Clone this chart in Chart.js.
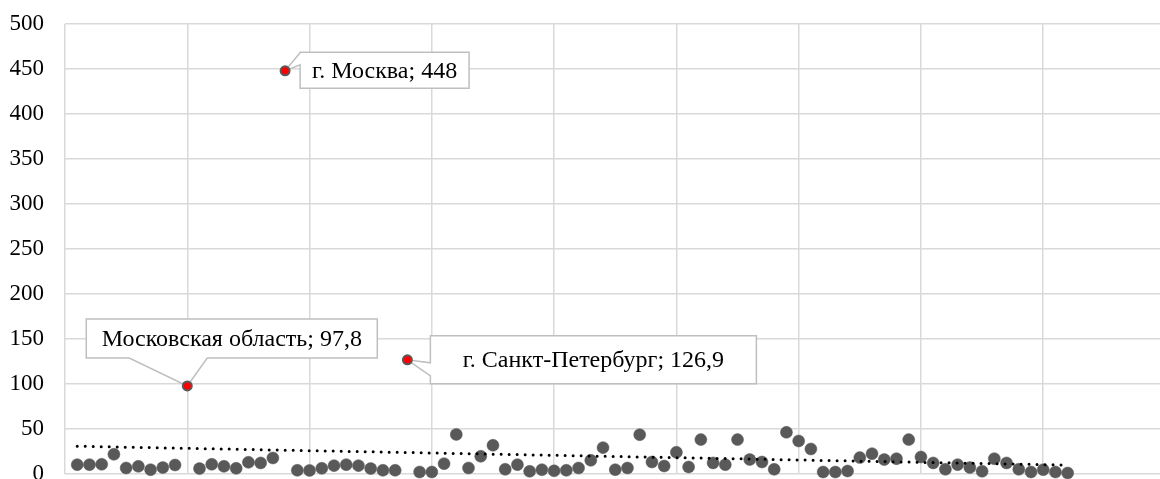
<!DOCTYPE html>
<html lang="ru">
<head>
    <meta charset="UTF-8">
    <title>Регионы</title>
    <style>
        body {
            margin: 0;
            background: #fff;
            overflow: hidden;
        }
        #wrap {
            width: 1160px;
            height: 479px;
            overflow: hidden;
        }
    </style>
</head>
<body>
    <div id="wrap">
        <canvas id="chart" width="1172" height="490"></canvas>
    </div>
    <script src="https://cdn.jsdelivr.net/npm/chart.js"></script>
    <script>
        // values per region, in order 1..82
        const values = [
            10.4, 10.4, 10.8, 21.9, 6.7, 8.5, 4.8, 7.1, 10, 97.8,
            6, 10.8, 8.5, 6.3, 13, 12.3, 17.8, 448, 4.1, 4,
            6.3, 9.3, 10.4, 9.3, 6, 4.1, 4.1, 126.9, 2.2, 2.2,
            11.5, 44, 6.7, 19.7, 31.9, 5.2, 10.4, 3, 4.8, 3.5,
            4.1, 6.7, 15.2, 29.3, 4.8, 6.7, 43.7, 13.3, 8.9, 24.1,
            7.8, 38.2, 12.3, 10.4, 38.2, 16, 13.3, 5.2, 46.3, 36.7,
            27.8, 2.2, 2.2, 3.3, 18.2, 22.6, 16, 17, 38.2, 18.9,
            12.3, 5.2, 10.4, 7.1, 3, 17, 12.3, 5.2, 2.2, 4.8,
            2.2, 1.1
        ];
        // labelled regions (1-based position) and their names
        const labelledNo = [10, 18, 28];
        const labelledNames = ['Московская область', 'г. Москва', 'г. Санкт-Петербург'];
        const yTicks = [0, 50, 100, 150, 200, 250, 300, 350, 400, 450, 500];

        const points = values.map((v, i) => ({ x: i + 1, y: v }));

        // linear trend (least squares), like the spreadsheet trendline
        const n = points.length;
        const mx = points.reduce((s, p) => s + p.x, 0) / n;
        const my = points.reduce((s, p) => s + p.y, 0) / n;
        let sxy = 0, sxx = 0;
        points.forEach(p => { sxy += (p.x - mx) * (p.y - my); sxx += (p.x - mx) ** 2; });
        const slope = sxy / sxx;
        const icpt = my - slope * mx;
        const trend = [
            { x: points[0].x, y: icpt + slope * points[0].x },
            { x: points[n - 1].x, y: icpt + slope * points[n - 1].x }
        ];

        const fmt = v => String(v).replace('.', ',');
        const serif = '"Liberation Serif", "Times New Roman", serif';

        // callout box geometry relative to its point, in px
        const boxStyle = [
            { l: -101, r: 190, t: -67, b: -28, side: 'bottom', w0: -58, w1: 20 },
            { l: 15, r: 184, t: -18.5, b: 17.5, side: 'left', w0: -18, w1: -6 },
            { l: 23, r: 349, t: -24, b: 24, side: 'left', w0: 3, w1: 16 }
        ];

        const callouts = {
            id: 'callouts',
            beforeDatasetsDraw(chart) {
                const { ctx, scales } = chart;
                ctx.save();
                labelledNo.forEach((no, k) => {
                    const v = values[no - 1];
                    const px = scales.x.getPixelForValue(no);
                    const py = scales.y.getPixelForValue(v);
                    const s = boxStyle[k];
                    const L = px + s.l, R = px + s.r, T = py + s.t, B = py + s.b;
                    ctx.beginPath();
                    if (s.side === 'left') {
                        ctx.moveTo(L, T);
                        ctx.lineTo(R, T);
                        ctx.lineTo(R, B);
                        ctx.lineTo(L, B);
                        ctx.lineTo(L, py + s.w1);
                        ctx.lineTo(px, py);
                        ctx.lineTo(L, py + s.w0);
                    } else {
                        ctx.moveTo(L, T);
                        ctx.lineTo(R, T);
                        ctx.lineTo(R, B);
                        ctx.lineTo(px + s.w1, B);
                        ctx.lineTo(px, py);
                        ctx.lineTo(px + s.w0, B);
                        ctx.lineTo(L, B);
                    }
                    ctx.closePath();
                    ctx.fillStyle = '#fff';
                    ctx.fill();
                    ctx.strokeStyle = '#bfbfbf';
                    ctx.lineWidth = 1.5;
                    ctx.stroke();
                    ctx.fillStyle = '#000';
                    ctx.font = '24px ' + serif;
                    ctx.textAlign = 'center';
                    ctx.textBaseline = 'middle';
                    ctx.fillText(labelledNames[k] + '; ' + fmt(v), (L + R) / 2, (T + B) / 2 + 1);
                });
                ctx.restore();
            }
        };

        const isLabelled = i => labelledNo.includes(i + 1);

        new Chart(document.getElementById('chart'), {
            type: 'scatter',
            data: {
                datasets: [
                    {
                        type: 'line',
                        data: trend,
                        borderColor: '#000',
                        borderWidth: 3,
                        borderDash: [0, 8],
                        borderCapStyle: 'round',
                        pointRadius: 0,
                        clip: false
                    },
                    {
                        data: points,
                        pointRadius: points.map((p, i) => isLabelled(i) ? 4.5 : 6),
                        pointBorderWidth: points.map((p, i) => isLabelled(i) ? 2 : 0.5),
                        pointBackgroundColor: points.map((p, i) => isLabelled(i) ? '#ff0000' : '#595959'),
                        pointBorderColor: '#595959',
                        clip: false
                    }
                ]
            },
            options: {
                responsive: false,
                animation: false,
                layout: { padding: { top: 24, right: 2, bottom: 16, left: 0 } },
                plugins: { legend: { display: false }, tooltip: { enabled: false } },
                scales: {
                    x: {
                        type: 'linear',
                        min: 0,
                        max: 90,
                        ticks: { display: false, stepSize: 10 },
                        grid: { color: '#d9d9d9', lineWidth: 1.5, drawTicks: false },
                        border: { display: false },
                        afterFit: axis => {
                            axis.height = 0;
                            axis.paddingLeft = axis.paddingRight = 0;
                        }
                    },
                    y: {
                        min: 0,
                        max: 500,
                        afterBuildTicks: axis => { axis.ticks = yTicks.map(v => ({ value: v })); },
                        afterFit: axis => {
                            axis.width = 65;
                            axis.paddingTop = axis.paddingBottom = 0;
                        },
                        ticks: {
                            padding: 21,
                            color: '#000',
                            font: { family: serif, size: 23 }
                        },
                        grid: { color: '#d9d9d9', lineWidth: 1.5, drawTicks: false },
                        border: { display: false }
                    }
                }
            },
            plugins: [callouts]
        });
    </script>
</body>
</html>
